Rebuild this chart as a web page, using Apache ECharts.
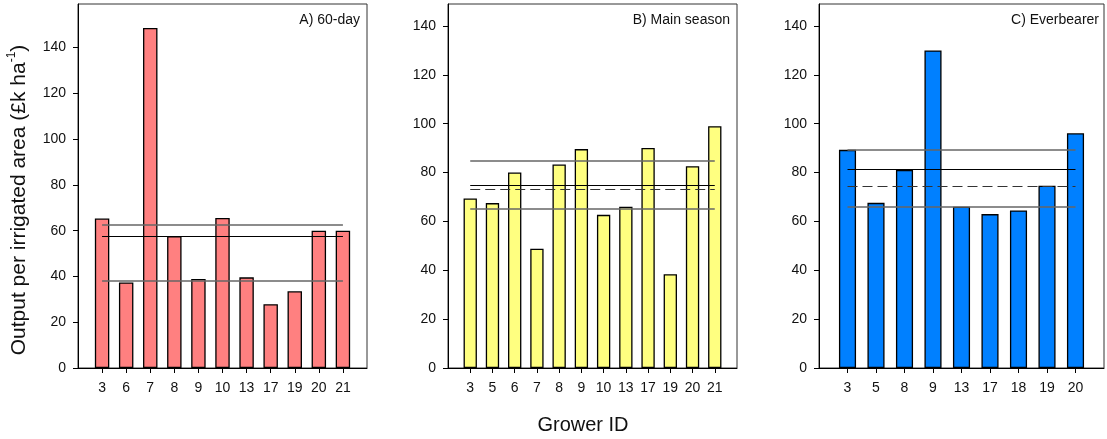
<!DOCTYPE html>
<html>
<head>
<meta charset="utf-8">
<script src="https://cdn.jsdelivr.net/npm/echarts@6/dist/echarts.min.js"></script>
<style>
html,body{margin:0;padding:0;background:#fff;}
#chart{width:1107px;height:439px;}
</style>
</head>
<body>
<div id="chart"></div>
<script>
// ---- data ----
const idsA = ['3','6','7','8','9','10','13','17','19','20','21'];
const valsA = [65.3, 37.4, 148.5, 57.6, 38.9, 65.5, 39.6, 27.9, 33.5, 60.0, 60.0];
const idsB = ['3','5','6','7','8','9','10','13','17','19','20','21'];
const valsB = [69.4, 67.5, 80.0, 48.8, 83.3, 89.6, 62.7, 66.0, 90.1, 38.4, 82.6, 99.0];
const idsC = ['3','5','8','9','13','17','18','19','20'];
const valsC = [89.3, 67.6, 81.1, 130.0, 66.0, 63.0, 64.5, 74.6, 96.1];

// reference lines
const grayA = [62.6, 38.1], solidA = [57.6], dashA = [57.6];
const grayB = [84.8, 65.1], solidB = [74.8], dashB = [73.1];
const grayC = [89.3, 66.0], solidC = [81.2], dashC = [74.4];

const yTicks = [0, 20, 40, 60, 80, 100, 120, 140];
const titles = ['A) 60-day', 'B) Main season', 'C) Everbearer'];
const yTitle = 'Output per irrigated area (£k ha';
const xTitle = 'Grower ID';

const colors = ['#FF8080', '#FFFF80', '#0080FF'];
const panels = [
  {ids: idsA, vals: valsA, gray: grayA, solid: solidA, dash: dashA, max: 159, left: 78, width: 289},
  {ids: idsB, vals: valsB, gray: grayB, solid: solidB, dash: dashB, max: 149, left: 448, width: 289},
  {ids: idsC, vals: valsC, gray: grayC, solid: solidC, dash: dashC, max: 149, left: 819, width: 287}
];

const FONT = 'Liberation Sans, Arial, sans-serif';
const grid = [], xAxis = [], yAxis = [], series = [], title = [];

panels.forEach((p, i) => {
  grid.push({left: p.left, width: p.width, top: 4, height: 364, show: true,
    borderColor: '#333', borderWidth: 1, backgroundColor: 'transparent'});
  const cats = [''].concat(p.ids, ['']);
  xAxis.push({type: 'category', gridIndex: i, data: cats, boundaryGap: false,
    axisLine: {lineStyle: {color: '#000', width: 1}},
    axisTick: {show: true, length: 5, interval: (idx, v) => v !== '', lineStyle: {color: '#000'}},
    axisLabel: {interval: 0, margin: 13, color: '#111', fontSize: 14, fontFamily: FONT},
    splitLine: {show: false}});
  yAxis.push({type: 'value', gridIndex: i, min: 0, max: p.max,
    axisLine: {show: true, lineStyle: {color: '#000', width: 1}},
    axisTick: {show: true, length: 5, customValues: yTicks, lineStyle: {color: '#000'}},
    axisLabel: {customValues: yTicks, margin: 12, color: '#111', fontSize: 14, fontFamily: FONT},
    splitLine: {show: false}});
  const first = p.ids[0], last = p.ids[p.ids.length - 1];
  const seg = (v, style) => [{coord: [first, v], lineStyle: style}, {coord: [last, v]}];
  const ml = [];
  p.gray.forEach(v => ml.push(seg(v, {color: '#666', width: 1.6, type: 'solid'})));
  p.dash.forEach(v => ml.push(seg(v, {color: '#333', width: 1, type: [10, 5]})));
  p.solid.forEach(v => ml.push(seg(v, {color: '#000', width: 1, type: 'solid'})));
  series.push({type: 'bar', xAxisIndex: i, yAxisIndex: i,
    data: [null].concat(p.vals, [null]), barWidth: '60%',
    itemStyle: {color: colors[i], borderColor: '#000', borderWidth: 1.3},
    animation: false,
    markLine: {silent: true, symbol: 'none', label: {show: false}, animation: false, data: ml}});
  title.push({text: titles[i], right: 1107 - (p.left + p.width) + 7, top: 13, padding: 0,
    textStyle: {fontSize: 14, fontWeight: 'normal', color: '#111', fontFamily: FONT}});
});

const chart = echarts.init(document.getElementById('chart'), null, {renderer: 'canvas'});
chart.setOption({
  animation: false,
  title: title,
  grid: grid, xAxis: xAxis, yAxis: yAxis, series: series,
  graphic: [
    {type: 'text', x: 19, y: 200, rotation: Math.PI / 2,
      style: {text: yTitle + '{sup|-1})', fontSize: 21, fontFamily: FONT, fill: '#111',
        align: 'center', verticalAlign: 'middle',
        rich: {sup: {fontSize: 12, verticalAlign: 'top', lineHeight: 26, padding: [0, 0, 10, 0], fontFamily: FONT}}}},
    {type: 'text', x: 583, y: 425,
      style: {text: xTitle, fontSize: 20, fontFamily: FONT, fill: '#111', align: 'center', verticalAlign: 'middle'}}
  ]
});
</script>
</body>
</html>
